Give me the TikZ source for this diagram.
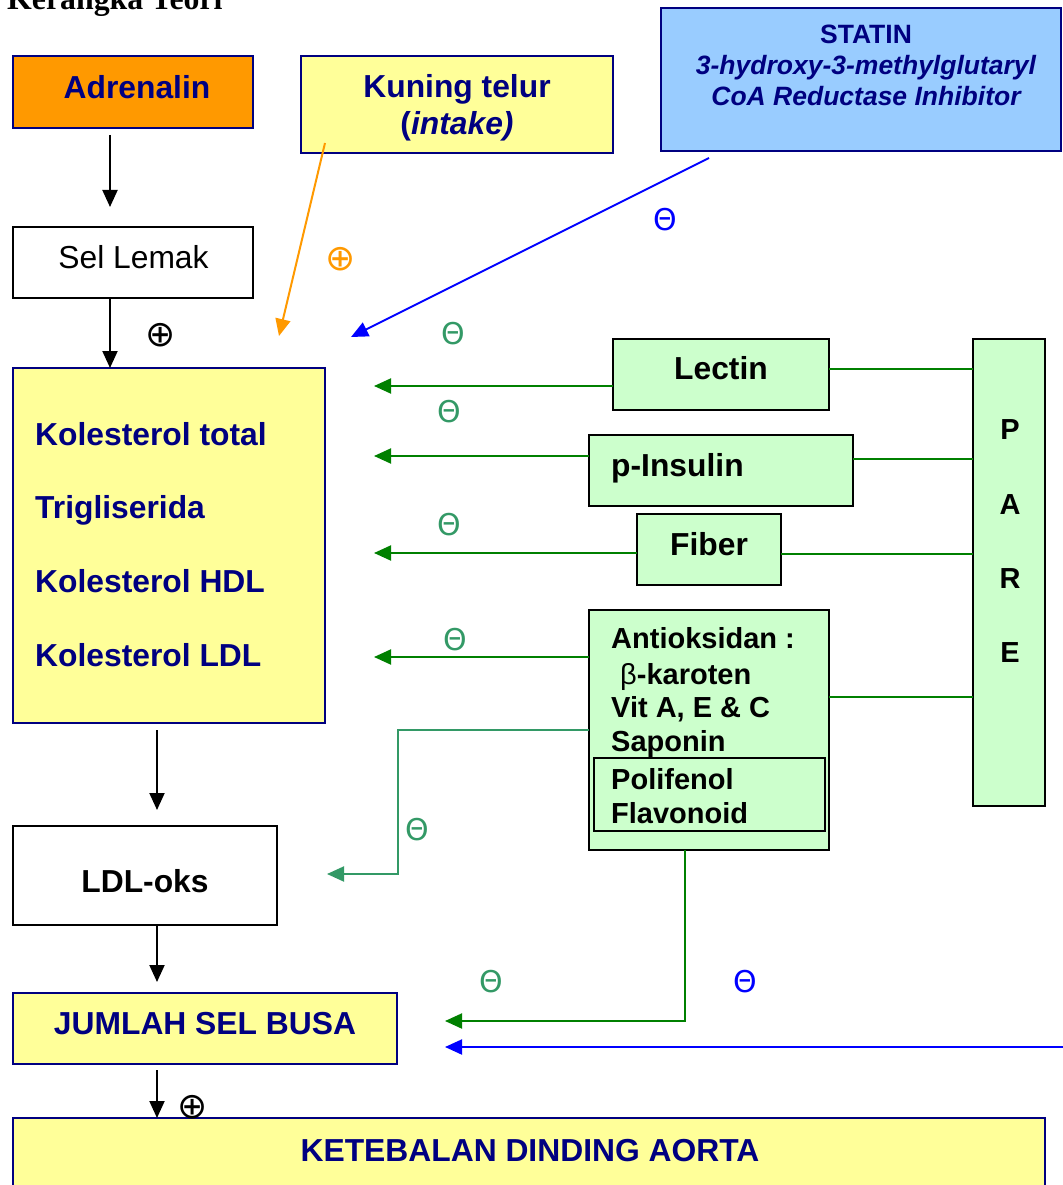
\documentclass[tikz,border=0pt]{standalone}
\usepackage{fontspec}
\setmainfont{Liberation Sans}
\newfontfamily\titlefont{Liberation Serif}
\newfontfamily\symfont{DejaVu Sans}
\usetikzlibrary{arrows.meta,calc}
\definecolor{navyc}{HTML}{000080}
\definecolor{orangec}{HTML}{FF9900}
\definecolor{yelc}{HTML}{FFFF99}
\definecolor{lbluec}{HTML}{99CCFF}
\definecolor{lgreenc}{HTML}{CCFFCC}
\definecolor{dgreenc}{HTML}{008000}
\definecolor{sgreenc}{HTML}{339966}
\definecolor{bluec}{HTML}{0000FF}
\begin{document}
\begin{tikzpicture}[x=1pt,y=-1pt,
  bx/.style={draw, line width=2pt, inner sep=0pt, outer sep=0pt},
  navybox/.style={bx, draw=navyc},
  blackbox/.style={bx, draw=black},
  bigb/.style={font=\fontsize{31.8}{37}\selectfont\bfseries},
  midb/.style={font=\fontsize{29}{34}\selectfont\bfseries},
  txt/.style={inner sep=0pt, anchor=base},
  txtw/.style={inner sep=0pt, anchor=base west},
  ln/.style={line width=2pt},
  arr/.style={ln, -{Triangle[length=17pt,width=15pt]}},
  thetasym/.style={inner sep=0pt, font=\symfont\fontsize{30}{32}\selectfont},
  plussym/.style={inner sep=0pt, font=\symfont\fontsize{36}{38}\selectfont},
]
\useasboundingbox (0,0) rectangle (1062,1185);

% title
\node[txtw, font=\titlefont\bfseries\fontsize{31.8}{36}\selectfont] (title) at (7,10) {Kerangka Teori};

% boxes
\node[navybox, fill=orangec, minimum width=240pt, minimum height=72pt] (adr) at (133,92) {};
\node[navybox, fill=yelc, minimum width=312pt, minimum height=97pt] (kun) at (457,104.5) {};
\node[navybox, fill=lbluec, minimum width=400pt, minimum height=143pt] (sta) at (861,79.5) {};
\node[blackbox, fill=white, minimum width=240pt, minimum height=71pt] (sel) at (133,262.5) {};
\node[navybox, fill=yelc, minimum width=312pt, minimum height=355pt] (main) at (169,545.5) {};
\node[blackbox, fill=lgreenc, minimum width=216pt, minimum height=71pt] (lec) at (721,374.5) {};
\node[blackbox, fill=lgreenc, minimum width=264pt, minimum height=71pt] (pin) at (721,470.5) {};
\node[blackbox, fill=lgreenc, minimum width=144pt, minimum height=71pt] (fib) at (709,549.5) {};
\node[blackbox, fill=lgreenc, minimum width=72pt, minimum height=467pt] (pare) at (1009,572.5) {};
\node[blackbox, fill=lgreenc, minimum width=240pt, minimum height=240pt] (ant) at (709,730) {};
\node[blackbox, minimum width=231pt, minimum height=73pt] (pol) at (709.5,794.5) {};
\node[blackbox, fill=white, minimum width=264pt, minimum height=99pt] (ldl) at (145,875.5) {};
\node[navybox, fill=yelc, minimum width=384pt, minimum height=71pt] (jum) at (205,1028.5) {};
\node[navybox, fill=yelc, minimum width=1032pt, minimum height=82pt] (ket) at (529,1159) {};

% texts
\node[txt, bigb, text=navyc] (tadr) at (137,98.5) {Adrenalin};
\node[txt, bigb, text=navyc, align=center] (tkun) at (457,135) {Kuning telur\\({\itshape intake)}};
\node[txt, font=\fontsize{26.5}{31}\selectfont\bfseries, text=navyc, align=center] (tsta) at (866,105.5)
  {STATIN\\{\itshape 3-hydroxy-3-methylglutaryl}\\{\itshape CoA Reductase Inhibitor}};
\node[txt, font=\fontsize{31.8}{37}\selectfont] (tsel) at (133.5,268) {Sel Lemak};
\node[txtw, bigb, text=navyc] (tm1) at (35,445) {Kolesterol total};
\node[txtw, bigb, text=navyc] (tm2) at (35,518) {Trigliserida};
\node[txtw, bigb, text=navyc] (tm3) at (35,592) {Kolesterol HDL};
\node[txtw, bigb, text=navyc] (tm4) at (35,666) {Kolesterol LDL};
\node[txt, bigb] (tlec) at (721,379) {Lectin};
\node[txtw, bigb] (tpin) at (611,476) {p-Insulin};
\node[txt, bigb] (tfib) at (709,555) {Fiber};
\node[txt, midb] (tp) at (1010,439) {P};
\node[txt, midb] (ta) at (1010,514) {A};
\node[txt, midb] (tr) at (1010,588) {R};
\node[txt, midb] (te) at (1010,662) {E};
\node[txtw, midb] (ta1) at (611,648.5) {Antioksidan :};
\node[txtw, midb] (ta2) at (620,684.5) {{\mdseries β}-karoten};
\node[txtw, midb] (ta3) at (611,717.5) {Vit A, E \& C};
\node[txtw, midb] (ta4) at (611,751.5) {Saponin};
\node[txtw, midb] (ta5) at (611,789.5) {Polifenol};
\node[txtw, midb] (ta6) at (611,823.5) {Flavonoid};
\node[txt, bigb] (tldl) at (145,892) {LDL-oks};
\node[txt, bigb, text=navyc] (tjum) at (205,1034) {JUMLAH SEL BUSA};
\node[txt, bigb, text=navyc] (tket) at (530,1161) {KETEBALAN DINDING AORTA};

% signs
\node[thetasym, text=bluec] (th1) at (665,220) {Θ};
\node[thetasym, text=sgreenc] (th2) at (453,334) {Θ};
\node[thetasym, text=sgreenc] (th3) at (449,412) {Θ};
\node[thetasym, text=sgreenc] (th4) at (449,525) {Θ};
\node[thetasym, text=sgreenc] (th5) at (455,640) {Θ};
\node[thetasym, text=sgreenc] (th6) at (417,830) {Θ};
\node[thetasym, text=sgreenc] (th7) at (491,982) {Θ};
\node[thetasym, text=bluec] (th8) at (745,982) {Θ};
\node[plussym] (op1) at (161,335) {⊕};
\node[plussym, text=orangec] (op2) at (341,259) {⊕};
\node[plussym] (op3) at (193,1107) {⊕};

% coordinates
\coordinate (x110) at (110,0);
\coordinate (x157) at (157,0);
\coordinate (p1) at (110,135);
\coordinate (p2) at (110,207);
\coordinate (o1) at (325,143);
\coordinate (o2) at (279,336);
\coordinate (u1) at (709,158);
\coordinate (u2) at (351,337);
\coordinate (g1) at (374,386);
\coordinate (g2) at (374,456);
\coordinate (g3) at (374,553);
\coordinate (g4) at (374,657);
\coordinate (r1) at (0,369);
\coordinate (r2) at (0,459);
\coordinate (r3) at (0,554);
\coordinate (r4) at (0,697);
\coordinate (s0) at (0,730);
\coordinate (s1) at (398,730);
\coordinate (s2) at (398,874);
\coordinate (s3) at (327,874);
\coordinate (b0) at (685,0);
\coordinate (b1) at (685,1021);
\coordinate (b2) at (445,1021);
\coordinate (w1) at (1070,1047);
\coordinate (w2) at (445,1047);
\coordinate (k1) at (157,730);
\coordinate (k2) at (157,810);
\coordinate (k3) at (157,982);
\coordinate (k4) at (157,1070);

% connectors
\draw[arr] (p1) -- (p2);
\draw[arr] (sel.south -| x110) -- (main.north -| x110);
\draw[arr, orangec] (o1) -- (o2);
\draw[arr, bluec] (u1) -- (u2);
\draw[arr, dgreenc] (lec.west |- g1) -- (g1);
\draw[arr, dgreenc] (pin.west |- g2) -- (g2);
\draw[arr, dgreenc] (fib.west |- g3) -- (g3);
\draw[arr, dgreenc] (ant.west |- g4) -- (g4);
\draw[ln, dgreenc] (lec.east |- r1) -- (pare.west |- r1);
\draw[ln, dgreenc] (pin.east |- r2) -- (pare.west |- r2);
\draw[ln, dgreenc] (fib.east |- r3) -- (pare.west |- r3);
\draw[ln, dgreenc] (ant.east |- r4) -- (pare.west |- r4);
\draw[arr, sgreenc] (ant.west |- s0) -- (s1) -- (s2) -- (s3);
\draw[arr, dgreenc] (ant.south -| b0) -- (b1) -- (b2);
\draw[arr, bluec] (w1) -- (w2);
\draw[arr] (k1) -- (k2);
\draw[arr] (ldl.south -| x157) -- (k3);
\draw[arr] (k4) -- (ket.north -| x157);
\end{tikzpicture}
\end{document}
